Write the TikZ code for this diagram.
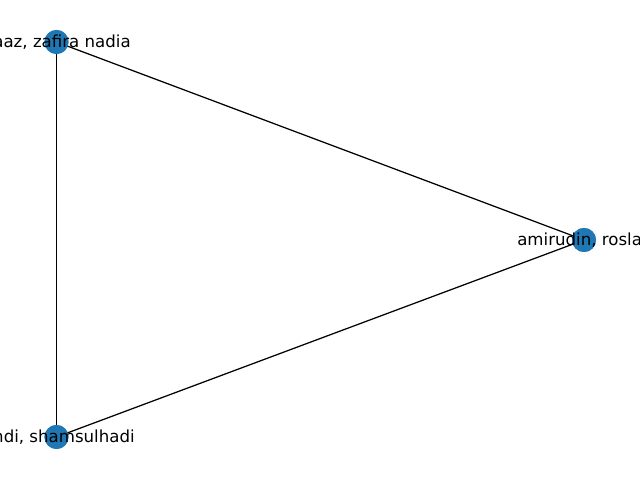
\documentclass[tikz,border=0pt]{standalone}
\usepackage{fontspec}
\setmainfont{DejaVu Sans}
\definecolor{nodeblue}{HTML}{1F77B4}

\begin{document}
\begin{tikzpicture}[x=0.01in, y=-0.01in, font=\fontsize{12pt}{14pt}\selectfont,
  person/.style={circle, fill=nodeblue, minimum size=0.24in, inner sep=0pt},
  nametext/.style={inner sep=0pt}, link/.style={black, line width=0.9pt}]
\useasboundingbox (0,0) rectangle (640,480); \clip (0,0) rectangle (640,480);
\node[person] (zafira) at (56.5,42) {}; \node[person] (rosla) at (584,240) {}; \node[person] (shams) at (56.5,437) {};
\draw[link] (zafira.center) -- (rosla.center); \draw[link] (rosla.center) -- (shams.center); \draw[link] (shams.center) -- (zafira.center);
\node[person] at (zafira) {}; \node[person] at (rosla) {}; \node[person] at (shams) {};
\node[nametext, anchor=east] (zafiratext) at (131,42) {aaz, zafira nadia};
\node[nametext, anchor=west] (roslatext) at (517,240) {amirudin, rosla};
\node[nametext, anchor=east] (shamstext) at (135,437) {ndi, shamsulhadi};
\end{tikzpicture}
\end{document}
